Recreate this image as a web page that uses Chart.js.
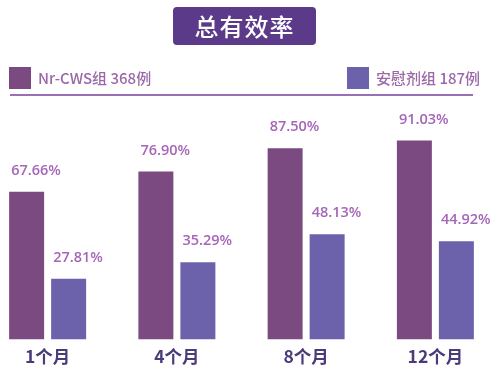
<!DOCTYPE html>
<html><head><meta charset="utf-8">
<script src="https://cdn.jsdelivr.net/npm/chart.js@4/dist/chart.umd.min.js"></script>
<style>
html,body{margin:0;padding:0;width:500px;height:377px;overflow:hidden;background:#fff;font-family:"Noto Sans CJK SC","Noto Sans",sans-serif;}
#title{position:absolute;left:173px;top:7px;width:143px;height:38px;background:#5b3b89;border-radius:4px;color:#fff;font-size:24px;font-weight:500;line-height:38px;text-align:center;letter-spacing:1px;}
.sw{position:absolute;top:67px;width:22px;height:22px;}
.lt{position:absolute;top:67px;height:22px;line-height:22px;font-size:15px;color:#9a68a8;white-space:nowrap;font-weight:500;}
#rule{position:absolute;left:10px;top:94px;width:463px;height:2px;background:#9a70b4;}
#wrap{position:absolute;left:-17px;top:0;width:517px;height:377px;}
</style></head><body>
<div id="wrap"><canvas id="c"></canvas></div>
<div id="title">总有效率</div>
<div class="sw" style="left:9px;background:#7a4a80;"></div>
<div class="lt" id="l1" style="left:38px;"></div>
<div class="sw" style="left:347px;background:#6c62ac;"></div>
<div class="lt" id="l2" style="left:376px;"></div>
<div id="rule"></div>
<script>
const categories = ["1个月", "4个月", "8个月", "12个月"];
const seriesNames = ["Nr-CWS组 368例", "安慰剂组 187例"];
const nrCws = [67.66, 76.90, 87.50, 91.03];
const placebo = [27.81, 35.29, 48.13, 44.92];
const colors = ["#7a4a80", "#6c62ac"];

document.getElementById('l1').textContent = seriesNames[0];
document.getElementById('l2').textContent = seriesNames[1];

const labelPlugin = {
  id: 'valLabels',
  afterDatasetsDraw(chart) {
    const ctx = chart.ctx;
    ctx.save();
    ctx.font = '600 14.5px "Open Sans", sans-serif';
    ctx.fillStyle = '#a565b8';
    ctx.textAlign = 'left';
    ctx.textBaseline = 'middle';
    chart.data.datasets.forEach((ds, i) => {
      const meta = chart.getDatasetMeta(i);
      meta.data.forEach((bar, j) => {
        const v = ds.data[j];
        ctx.fillText(v.toFixed(2) + '%', bar.x - bar.width / 2 + 2, bar.y - 21);
      });
    });
    ctx.restore();
  }
};

new Chart(document.getElementById('c'), {
  type: 'bar',
  data: {
    labels: categories,
    datasets: [
      { label: seriesNames[0], data: nrCws, backgroundColor: colors[0], categoryPercentage: 0.65, barPercentage: 0.833 },
      { label: seriesNames[1], data: placebo, backgroundColor: colors[1], categoryPercentage: 0.65, barPercentage: 0.833 }
    ]
  },
  options: {
    responsive: true,
    maintainAspectRatio: false,
    animation: false,
    layout: { padding: { top: 121, bottom: 4.6, left: 0, right: 0 } },
    plugins: { legend: { display: false }, tooltip: { enabled: false } },
    scales: {
      x: {
        grid: { display: false, drawTicks: false, tickLength: 0 },
        border: { display: false },
        ticks: { color: '#4b3b78', font: { size: 17.5, weight: 'bold', family: '"Noto Sans CJK SC", sans-serif' }, padding: 6, maxRotation: 0, autoSkip: false }
      },
      y: { display: false, min: 0, max: 100 }
    }
  },
  plugins: [labelPlugin]
});
</script>
</body></html>
